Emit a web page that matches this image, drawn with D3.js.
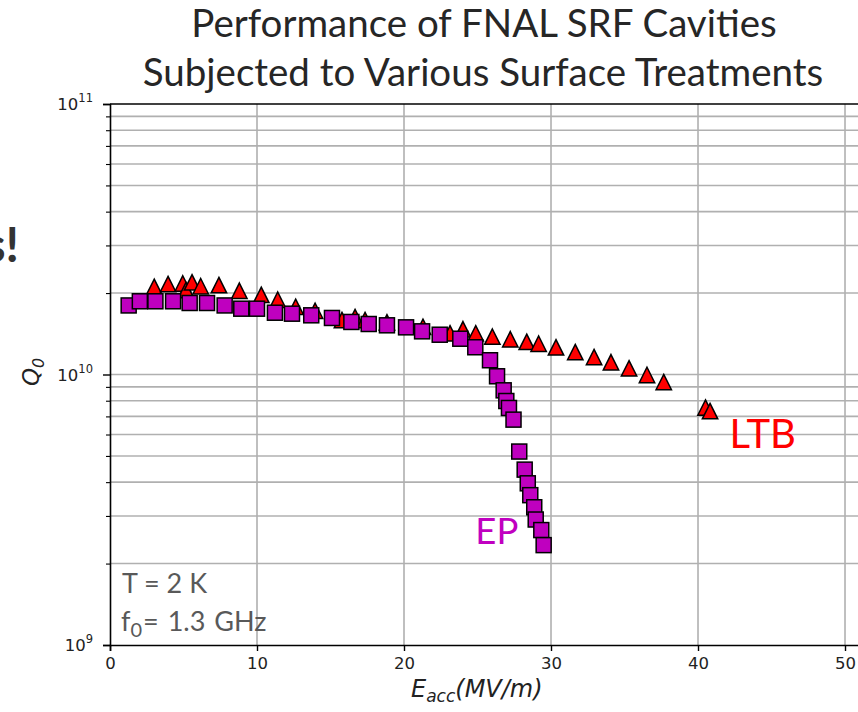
<!DOCTYPE html>
<html>
<head>
<meta charset="utf-8">
<script src="https://cdn.jsdelivr.net/npm/d3@7"></script>
<style>
  html, body { margin: 0; padding: 0; background: #fff; }
  svg { display: block; }
</style>
</head>
<body>
<svg id="chart" width="858" height="712"></svg>
<script>
// ---- data ----
const titleLines = ["Performance of FNAL SRF Cavities", "Subjected to Various Surface Treatments"];
const xTicks = [0, 10, 20, 30, 40, 50];
const yMajorTicks = [1e9, 1e10, 1e11];
const yMajorLabels = [["10", "9"], ["10", "10"], ["10", "11"]];

// LTB series (red triangles)
const ltbE = [3.01, 3.95, 4.95, 5.17, 5.58, 6.17, 7.41, 8.80, 10.29, 11.41, 12.63, 13.95, 15.78, 16.67, 17.35,
              18.84, 21.29, 23.13, 24.01, 24.88, 26.01, 27.23, 28.35, 29.16, 30.34, 31.65, 32.93, 34.08,
              35.31, 36.53, 37.67, 40.51, 40.82];
const ltbQ = [2.11e10, 2.16e10, 2.17e10, 2.05e10, 2.19e10, 2.12e10, 2.14e10, 2.04e10, 1.97e10, 1.89e10, 1.78e10,
              1.72e10, 1.59e10, 1.63e10, 1.59e10, 1.56e10, 1.50e10, 1.42e10, 1.47e10, 1.42e10, 1.38e10, 1.35e10,
              1.32e10, 1.30e10, 1.26e10, 1.21e10, 1.16e10, 1.11e10, 1.054e10, 9.96e9, 9.38e9, 7.55e9, 7.32e9];

// EP series (magenta squares)
const epE = [1.27, 2.03, 3.09, 4.29, 5.42, 6.60, 7.80, 8.93, 10.0, 11.22, 12.38, 13.69, 15.10, 16.42, 17.60,
             18.84, 20.14, 21.23, 22.43, 23.83, 24.85, 25.85, 26.33, 26.78, 26.96, 27.14, 27.45, 27.84,
             28.21, 28.42, 28.59, 28.86, 28.96, 29.34, 29.50];
const epQ = [1.80e10, 1.865e10, 1.865e10, 1.865e10, 1.838e10, 1.838e10, 1.80e10, 1.751e10, 1.751e10, 1.692e10,
             1.678e10, 1.655e10, 1.618e10, 1.564e10, 1.537e10, 1.520e10, 1.494e10, 1.444e10, 1.403e10, 1.356e10,
             1.261e10, 1.129e10, 9.85e9, 8.74e9, 7.98e9, 7.52e9, 6.81e9, 5.19e9, 4.45e9, 3.96e9, 3.58e9,
             3.23e9, 2.91e9, 2.66e9, 2.34e9];

const ltbLabel = "LTB";
const epLabel = "EP";
const noteLines = ["T = 2 K", "f0= 1.3 GHz"];

// ---- drawing ----
const svg = d3.select("#chart");
const plotLeft = 110, plotTop = 104, plotBottom = 645, plotRight = 860;

const x = d3.scaleLinear().domain([0, 51.02]).range([plotLeft, plotRight]);
const y = d3.scaleLog().domain([1e9, 1e11]).range([plotBottom, plotTop]);

const gridColor = "#b0b0b0";

// minor + major horizontal gridlines
const yAllTicks = [];
for (let e = 9; e < 11; e++) for (let m = 1; m < 10; m++) yAllTicks.push(m * Math.pow(10, e));
yAllTicks.push(1e11);
const yMinor = yAllTicks.filter(v => !yMajorTicks.includes(v));

svg.append("g").selectAll("line").data(yAllTicks.filter(v => v > 1e9 && v < 1e11)).join("line")
  .attr("x1", plotLeft).attr("x2", plotRight)
  .attr("y1", d => y(d)).attr("y2", d => y(d))
  .attr("stroke", gridColor).attr("stroke-width", 1.6);

svg.append("g").selectAll("line").data(xTicks.filter(v => v > 0)).join("line")
  .attr("x1", d => x(d)).attr("x2", d => x(d))
  .attr("y1", plotTop).attr("y2", plotBottom)
  .attr("stroke", gridColor).attr("stroke-width", 1.6);

// axes
const xAxis = d3.axisBottom(x).tickValues(xTicks).tickSize(6).tickPadding(6).tickFormat(d3.format("d"));
const gx = svg.append("g").attr("transform", `translate(0,${plotBottom})`).call(xAxis);
gx.select(".domain").attr("stroke", "#000").attr("stroke-width", 1.6);
gx.selectAll(".tick line").attr("stroke", "#000").attr("stroke-width", 1.4);
gx.selectAll(".tick text").attr("font-family", "DejaVu Sans").attr("font-size", 16.5).attr("fill", "#222");

const yAxisMajor = d3.axisLeft(y).tickValues(yMajorTicks).tickSize(7).tickFormat("");
const gy = svg.append("g").attr("transform", `translate(${plotLeft},0)`).call(yAxisMajor);
gy.select(".domain").attr("stroke", "#000").attr("stroke-width", 1.6);
gy.selectAll(".tick line").attr("stroke", "#000").attr("stroke-width", 1.4);

const yAxisMinor = d3.axisLeft(y).tickValues(yMinor).tickSize(4).tickFormat("");
const gym = svg.append("g").attr("transform", `translate(${plotLeft},0)`).call(yAxisMinor);
gym.select(".domain").remove();
gym.selectAll(".tick line").attr("stroke", "#000").attr("stroke-width", 1.1);

// top spine
svg.append("line").attr("x1", plotLeft).attr("x2", plotRight).attr("y1", plotTop).attr("y2", plotTop)
  .attr("stroke", "#000").attr("stroke-width", 1.6);

// y tick labels with superscripts
const yLab = svg.append("g").attr("font-family", "DejaVu Sans").attr("fill", "#222");
yMajorTicks.forEach((v, i) => {
  const t = yLab.append("text").attr("x", 93).attr("y", y(v) + 6).attr("text-anchor", "end");
  t.append("tspan").attr("font-size", 16.5).text(yMajorLabels[i][0]);
  t.append("tspan").attr("font-size", 11.5).attr("dy", -8).text(yMajorLabels[i][1]);
});

// LTB triangles
const tri = 7.7;
svg.append("g").selectAll("path").data(ltbE.map((e, i) => [e, ltbQ[i]])).join("path")
  .attr("d", `M0,${-tri}L${tri},${tri}L${-tri},${tri}Z`)
  .attr("transform", d => `translate(${x(d[0])},${y(d[1])})`)
  .attr("fill", "#ff0000").attr("stroke", "#000").attr("stroke-width", 1.5).attr("stroke-linejoin", "miter");

// EP squares
const sq = 15;
svg.append("g").selectAll("rect").data(epE.map((e, i) => [e, epQ[i]])).join("rect")
  .attr("x", d => x(d[0]) - sq / 2).attr("y", d => y(d[1]) - sq / 2)
  .attr("width", sq).attr("height", sq)
  .attr("fill", "#bf00bf").attr("stroke", "#000").attr("stroke-width", 1.5);

// series labels
svg.append("text").attr("x", x(42.15)).attr("y", 448).attr("font-family", "Lato, 'Open Sans', sans-serif")
  .attr("font-size", 40).attr("fill", "#ff0000").text(ltbLabel);
svg.append("text").attr("x", x(24.85)).attr("y", 544).attr("font-family", "Lato, 'Open Sans', sans-serif")
  .attr("font-size", 36.5).attr("fill", "#c000c0").text(epLabel);

// notes
const noteG = svg.append("g").attr("font-family", "Lato, 'Open Sans', sans-serif").attr("fill", "#595959").attr("font-size", 27);
noteG.append("text").attr("x", 122).attr("y", 593).text(noteLines[0]);
const n2 = noteG.append("text").attr("x", 121).attr("y", 631);
n2.append("tspan").text("f");
n2.append("tspan").attr("font-size", 20).attr("dy", 6).text("0");
n2.append("tspan").attr("dy", -6).attr("dx", 1).attr("word-spacing", 2).text("= 1.3 GHz");

// axis labels
const xl = svg.append("text").attr("x", 411).attr("y", 697).attr("font-family", "DejaVu Sans")
  .attr("font-style", "italic").attr("font-size", 24).attr("fill", "#222");
xl.append("tspan").text("E");
xl.append("tspan").attr("font-size", 17).attr("dy", 5).text("acc");
xl.append("tspan").attr("dy", -5).text("(MV/m)");

const yl = svg.append("text").attr("transform", "translate(39,386) rotate(-90)")
  .attr("font-family", "DejaVu Sans").attr("font-style", "italic").attr("font-size", 23).attr("fill", "#222");
yl.append("tspan").text("Q");
yl.append("tspan").attr("font-size", 16).attr("dy", 5).text("0");

// title
const tg = svg.append("g").attr("font-family", "Lato, 'Open Sans', sans-serif").attr("font-size", 38.5).attr("fill", "#262626")
  .attr("text-anchor", "middle");
tg.append("text").attr("x", 484).attr("y", 37).text(titleLines[0]);
tg.append("text").attr("x", 483).attr("y", 86).text(titleLines[1]);

// cut-off bold text at left edge
svg.append("text").attr("x", 19).attr("y", 262).attr("text-anchor", "end")
  .attr("font-family", "Lato, 'Open Sans', sans-serif").attr("font-weight", "bold").attr("font-size", 48)
  .attr("fill", "#333").text("s!");
</script>
</body>
</html>
